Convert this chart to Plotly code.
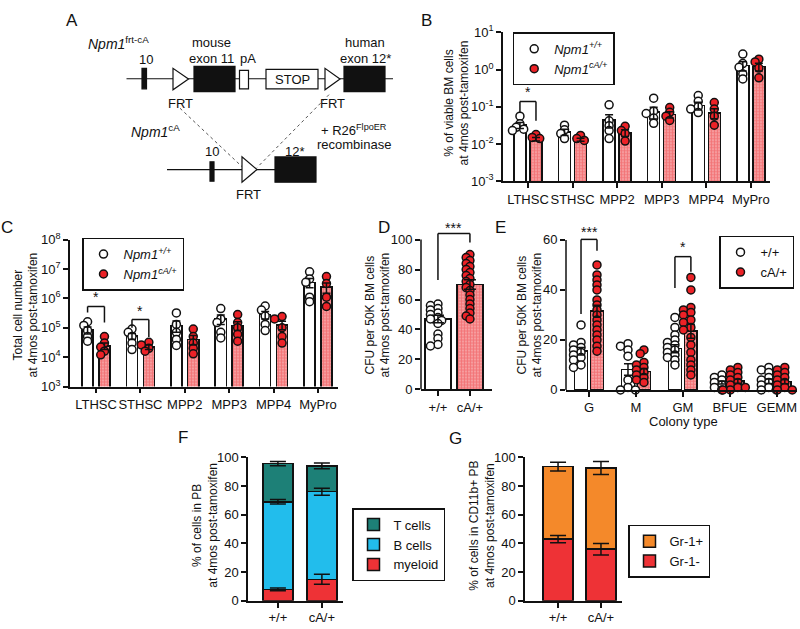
import math
import numpy as np
import plotly.graph_objects as go

W, H = 800, 629
FONT = "Liberation Sans, Arial, Helvetica, sans-serif"
RED = "#ec2227"
BLACK = "#111111"


def X(px):
    return px / W


def Y(py):
    return 1 - py / H


# ---------------- DATA ----------------
# Panel B: % of viable BM cells (log)
b_cats = ["LTHSC", "STHSC", "MPP2", "MPP3", "MPP4", "MyPro"]
b_wt_mean = [0.032, 0.021, 0.044, 0.072, 0.107, 1.27]
b_wt_sem = [0.006, 0.004, 0.017, 0.025, 0.025, 0.35]
b_ca_mean = [0.0135, 0.013, 0.020, 0.062, 0.068, 1.2]
b_ca_sem = [0.0015, 0.0012, 0.004, 0.012, 0.02, 0.28]
b_wt_pts = [[0.056, 0.035, 0.028, 0.025, 0.023],
            [0.032, 0.024, 0.019, 0.014],
            [0.113, 0.042, 0.031, 0.023, 0.014],
            [0.17, 0.076, 0.066, 0.05, 0.036],
            [0.2, 0.14, 0.1, 0.087, 0.07],
            [2.6, 1.45, 1.15, 0.76, 0.56]]
b_ca_pts = [[0.018, 0.015, 0.014],
            [0.017, 0.014, 0.0125],
            [0.03, 0.023, 0.019, 0.012],
            [0.095, 0.071, 0.056, 0.043],
            [0.13, 0.087, 0.056, 0.032],
            [1.9, 1.6, 1.1, 0.6]]
b_ticks = [1e-3, 1e-2, 1e-1, 1, 10]
b_ticktext = ["10<sup>-3</sup>", "10<sup>-2</sup>", "10<sup>-1</sup>", "10<sup>0</sup>", "10<sup>1</sup>"]
# (category, left leg bottom, top, right leg bottom, star level, label)
b_sig = [(0, 0.069, 0.138, 0.042, 0.25, "*")]

# Panel C: total cell number (log)
c_cats = ["LTHSC", "STHSC", "MPP2", "MPP3", "MPP4", "MyPro"]
c_wt_mean = [8.3e4, 5.2e4, 1.2e5, 2.0e5, 2.8e5, 3.5e6]
c_wt_sem = [2.2e4, 1.2e4, 5e4, 7e4, 8e4, 1.2e6]
c_ca_mean = [2.4e4, 2.2e4, 4.0e4, 1.2e5, 1.25e5, 2.4e6]
c_ca_sem = [6e3, 4e3, 1.4e4, 4e4, 4e4, 9e5]
c_wt_pts = [[1.6e5, 1.2e5, 8e4, 5e4, 3.5e4],
            [9e4, 7e4, 5e4, 3e4, 1.8e4],
            [3.2e5, 1.3e5, 7e4, 4e4, 2.5e4],
            [4.5e5, 2e5, 1.5e5, 7e4, 4.5e4],
            [5.5e5, 4e5, 2.5e5, 1.3e5, 8e4],
            [8e6, 4.6e6, 3.5e6, 1.1e6, 7.7e5]]
c_ca_pts = [[5e4, 3e4, 2.2e4, 1.6e4, 1.2e4],
            [3.2e4, 2.6e4, 2e4, 1.6e4],
            [9e4, 5e4, 3e4, 2e4, 1.3e4],
            [2.8e5, 1.5e5, 1e5, 6e4, 3.5e4],
            [2.4e5, 2e5, 1e5, 5e4, 3e4],
            [5.5e6, 3.2e6, 1.1e6, 5.3e5]]
c_ticks = [1e3, 1e4, 1e5, 1e6, 1e7, 1e8]
c_ticktext = ["10<sup>3</sup>", "10<sup>4</sup>", "10<sup>5</sup>", "10<sup>6</sup>", "10<sup>7</sup>", "10<sup>8</sup>"]
c_sig = [(0, 3.3e5, 5.3e5, 1.5e5, 1.1e6, "*"),
         (1, 1.0e5, 1.9e5, 4.8e4, 3.6e5, "*")]

# Panel D: CFU per 50K BM cells
d_cats = ["+/+", "cA/+"]
d_mean = [47, 70]
d_sem = [2.5, 3.2]
d_wt_pts = [57, 56, 54, 53, 51, 50, 48, 47, 46, 44, 37, 34, 30, 29]
d_ca_pts = [90, 88, 86, 84, 82, 80, 78, 76, 74, 72, 70, 68, 66, 63, 60, 57, 54, 51, 49, 47]
d_ticks = [0, 20, 40, 60, 80, 100]
d_sig = [(0, 73, 104, 98, 108, "***")]

# Panel E: CFU by colony type
e_cats = ["G", "M", "GM", "BFUE", "GEMM"]
e_wt_mean = [15.5, 8.2, 16.5, 3.0, 3.5]
e_wt_sem = [1.5, 2.3, 1.6, 0.6, 0.9]
e_ca_mean = [31.5, 7.4, 23.5, 3.5, 3.3]
e_ca_sem = [2.4, 1.2, 2.8, 0.8, 0.8]
e_wt_pts = [[26, 19, 18, 17, 16, 15, 14, 13, 12, 10, 9],
            [18.5, 17.5, 16, 13.5, 4, 1, 0, 0],
            [29, 25, 22, 20, 19, 18, 17, 16, 15, 14, 13, 12, 10],
            [6, 5, 4, 3, 3, 2, 1, 1, 0],
            [9, 8, 7, 5, 4, 3, 2, 1, 0, 0]]
e_ca_pts = [[50, 46, 44, 42, 40, 36, 34, 32, 30, 28, 26, 24, 22, 20, 17.5, 15.5],
            [16, 14.5, 11, 10, 9, 8, 7, 6, 5, 4, 3],
            [45, 40, 33, 32, 31, 30, 28, 27, 25, 24, 21, 18, 15, 12, 10, 8, 6],
            [9, 8, 7, 6, 5, 4, 3, 2, 1, 1, 0, 0],
            [9, 8, 7, 6, 5, 4, 3, 2, 1, 0, 0]]
e_ticks = [0, 20, 40, 60]
e_sig = [(0, 30.4, 60.2, 55.7, 63.3, "***"),
         (2, 40.8, 53.3, 47.3, 57.0, "*")]

# Panel F: % of cells in PB (stacked)
f_cats = ["+/+", "cA/+"]
f_myeloid = [8, 15]
f_myeloid_sem = [1, 3.5]
f_bcells = [61, 61]
f_bcells_sem = [1.5, 2.5]
f_tcells = [26.5, 18]
f_tcells_sem = [1.5, 2]
fg_ticks = [0, 20, 40, 60, 80, 100]

# Panel G: % of cells in CD11b+ PB (stacked)
g_cats = ["+/+", "cA/+"]
g_gr1neg = [43, 36]
g_gr1neg_sem = [2.5, 4]
g_gr1pos = [50.5, 56.5]
g_gr1pos_sem = [3, 4.5]

# ---------------- FIGURE ----------------
fig = go.Figure()
shapes = []
annotations = []
PATTERN = dict(shape=".", fgcolor=RED, bgcolor="#f9c4c4", size=3, solidity=0.75)


def swarm(vals, to_px, diam=7.5, tight=0.62):
    ys = [to_px(v) for v in vals]
    order = sorted(range(len(vals)), key=lambda i: -vals[i])
    placed = []
    offs = [0.0] * len(vals)
    cands = [0, -0.5, 0.5, -1, 1, -1.5, 1.5, -2, 2]
    for i in order:
        o = 0
        for k in cands:
            o = k * diam
            ok = all(math.hypot(o - po, ys[i] - py) >= diam * tight for po, py in placed)
            if ok:
                break
        offs[i] = o
        placed.append((o, ys[i]))
    return offs


def axis_common():
    return dict(showline=True, linecolor=BLACK, linewidth=1.5, ticks="outside", ticklen=5,
                tickwidth=1.5, tickcolor=BLACK, showgrid=False, zeroline=False, tickangle=0,
                tickfont=dict(size=13, color=BLACK, family=FONT), fixedrange=True)


def bar_scatter_panel(n, cats, wm, ws, cm, cs, wp, cp, off, bw, pxu, ypx, legend,
                      names, errw=4, pdiam=7.5, msize=8):
    xa = "x" if n == 1 else f"x{n}"
    ya = "y" if n == 1 else f"y{n}"
    idx = np.arange(len(cats))
    fig.add_trace(go.Bar(x=idx - off, y=wm, width=bw, xaxis=xa, yaxis=ya,
                         marker=dict(color="white", line=dict(color=BLACK, width=1.5)),
                         showlegend=False, hoverinfo="skip"))
    fig.add_trace(go.Bar(x=idx + off, y=cm, width=bw, xaxis=xa, yaxis=ya,
                         marker=dict(color="#f6a5a5", line=dict(color=BLACK, width=1.5),
                                     pattern=PATTERN),
                         showlegend=False, hoverinfo="skip"))
    for pts, sign, fill, name in [(wp, -1, "white", names[0]), (cp, 1, RED, names[1])]:
        xs, ys = [], []
        for i, vals in enumerate(pts):
            o = swarm(vals, ypx, pdiam)
            xs += [i + sign * off + oo / pxu for oo in o]
            ys += list(vals)
        fig.add_trace(go.Scatter(x=xs, y=ys, mode="markers", xaxis=xa, yaxis=ya,
                                 marker=dict(size=msize, color=fill, line=dict(color=BLACK, width=1.5)),
                                 name=name, legend=legend, showlegend=legend is not None,
                                 cliponaxis=False, hoverinfo="skip"))
    fig.add_trace(go.Scatter(x=list(idx - off) + list(idx + off), y=list(wm) + list(cm),
                             mode="markers", marker=dict(size=1, color="rgba(0,0,0,0)"),
                             error_y=dict(type="data", array=list(ws) + list(cs), visible=True,
                                          color=BLACK, thickness=1.5, width=errw),
                             xaxis=xa, yaxis=ya, showlegend=False, hoverinfo="skip"))


def brackets(n, sig, off, log=False):
    xa = "x" if n == 1 else f"x{n}"
    ya = "y" if n == 1 else f"y{n}"
    for cat, yl, yt, yr, ys, lab in sig:
        x0, x1 = cat - off, cat + off
        for (a, b, c, d) in [(x0, yl, x0, yt), (x0, yt, x1, yt), (x1, yt, x1, yr)]:
            shapes.append(dict(type="line", xref=xa, yref=ya, x0=a, y0=b, x1=c, y1=d,
                               line=dict(color=BLACK, width=1.5)))
        annotations.append(dict(x=cat, y=math.log10(ys) if log else ys, xref=xa, yref=ya,
                                text=lab, showarrow=False, font=dict(size=14, color=BLACK, family=FONT),
                                yanchor="middle"))


# B
b_ppd = (177 - 24) / 4.0
bar_scatter_panel(1, b_cats, b_wt_mean, b_wt_sem, b_ca_mean, b_ca_sem, b_wt_pts, b_ca_pts,
                  0.18, 0.27, 44.6, lambda v: math.log10(v) * b_ppd, "legend",
                  ["<i>Npm1<sup>+/+</sup></i>", "<i>Npm1<sup>cA/+</sup></i>"])
brackets(1, b_sig, 0.18, log=True)

# C
c_ppd = (388 - 237) / 5.0
bar_scatter_panel(2, c_cats, c_wt_mean, c_wt_sem, c_ca_mean, c_ca_sem, c_wt_pts, c_ca_pts,
                  0.19, 0.25, 44.4, lambda v: math.log10(v) * c_ppd, "legend2",
                  ["<i>Npm1<sup>+/+</sup></i>", "<i>Npm1<sup>cA/+</sup></i>"])
brackets(2, c_sig, 0.19, log=True)

# D
d_ppu = (391 - 237) / 100.0
idx = np.arange(len(d_cats))
fig.add_trace(go.Bar(x=[0], y=[d_mean[0]], width=0.82, xaxis="x3", yaxis="y3",
                     marker=dict(color="white", line=dict(color=BLACK, width=1.5)),
                     showlegend=False, hoverinfo="skip"))
fig.add_trace(go.Bar(x=[1], y=[d_mean[1]], width=0.82, xaxis="x3", yaxis="y3",
                     marker=dict(color="#f6a5a5", line=dict(color=BLACK, width=1.5), pattern=PATTERN),
                     showlegend=False, hoverinfo="skip"))
for i, (pts, fill) in enumerate([(d_wt_pts, "white"), (d_ca_pts, RED)]):
    o = swarm(pts, lambda v: v * d_ppu, 7.5, 0.55)
    fig.add_trace(go.Scatter(x=[i + oo / 32.0 for oo in o], y=pts, mode="markers", xaxis="x3", yaxis="y3",
                             marker=dict(size=8, color=fill, line=dict(color=BLACK, width=1.5)),
                             showlegend=False, cliponaxis=False, hoverinfo="skip"))
fig.add_trace(go.Scatter(x=list(idx), y=d_mean, mode="markers", marker=dict(size=1, color="rgba(0,0,0,0)"),
                         error_y=dict(type="data", array=d_sem, visible=True, color=BLACK, thickness=1.5, width=6),
                         xaxis="x3", yaxis="y3", showlegend=False, hoverinfo="skip"))
for cat, yl, yt, yr, ys, lab in d_sig:
    for (a, b, c, d) in [(0, yl, 0, yt), (0, yt, 1, yt), (1, yt, 1, yr)]:
        shapes.append(dict(type="line", xref="x3", yref="y3", x0=a, y0=b, x1=c, y1=d,
                           line=dict(color=BLACK, width=1.5)))
    annotations.append(dict(x=0.5, y=ys, xref="x3", yref="y3", text=lab, showarrow=False,
                            font=dict(size=14, color=BLACK, family=FONT), yanchor="middle"))

# E
e_ppu = (391.5 - 237.3) / 60.0
bar_scatter_panel(4, e_cats, e_wt_mean, e_wt_sem, e_ca_mean, e_ca_sem, e_wt_pts, e_ca_pts,
                  0.17, 0.27, 47.0, lambda v: v * e_ppu, "legend3", ["+/+", "cA/+"], errw=4)
brackets(4, e_sig, 0.17)

# F stacked
f_layers = [("myeloid", f_myeloid, f_myeloid_sem, "#ee3236"),
            ("B cells", f_bcells, f_bcells_sem, "#22bdec"),
            ("T cells", f_tcells, f_tcells_sem, "#1d8077")]
cum = np.zeros(len(f_cats))
for name, vals, sems, col in f_layers:
    fig.add_trace(go.Bar(x=np.arange(len(f_cats)), y=vals, width=0.68, xaxis="x5", yaxis="y5",
                         marker=dict(color=col, line=dict(color=BLACK, width=1.5)), name=name,
                         legend="legend4", hoverinfo="skip"))
    cum = cum + np.array(vals)
    fig.add_trace(go.Scatter(x=np.arange(len(f_cats)), y=cum, mode="markers",
                             marker=dict(size=1, color="rgba(0,0,0,0)"),
                             error_y=dict(type="data", array=sems, visible=True, color=BLACK, thickness=1.5, width=8),
                             xaxis="x5", yaxis="y5", showlegend=False, hoverinfo="skip"))

# G stacked
g_layers = [("Gr-1-", g_gr1neg, g_gr1neg_sem, "#ee3236"),
            ("Gr-1+", g_gr1pos, g_gr1pos_sem, "#f4892a")]
cum = np.zeros(len(g_cats))
for name, vals, sems, col in g_layers:
    fig.add_trace(go.Bar(x=np.arange(len(g_cats)), y=vals, width=0.70, xaxis="x6", yaxis="y6",
                         marker=dict(color=col, line=dict(color=BLACK, width=1.5)), name=name,
                         legend="legend5", hoverinfo="skip"))
    cum = cum + np.array(vals)
    fig.add_trace(go.Scatter(x=np.arange(len(g_cats)), y=cum, mode="markers",
                             marker=dict(size=1, color="rgba(0,0,0,0)"),
                             error_y=dict(type="data", array=sems, visible=True, color=BLACK, thickness=1.5, width=8),
                             xaxis="x6", yaxis="y6", showlegend=False, hoverinfo="skip"))

# ---------------- AXES ----------------
layout = dict(width=W, height=H, autosize=False, margin=dict(l=0, r=0, t=0, b=0),
              paper_bgcolor="white", plot_bgcolor="rgba(0,0,0,0)", barmode="stack",
              font=dict(family=FONT, color=BLACK, size=13))


def set_axes(n, xdom, ydom, xrange, xtv, xtt, yaxis_extra, xextra=None):
    sx = "xaxis" if n == 1 else f"xaxis{n}"
    sy = "yaxis" if n == 1 else f"yaxis{n}"
    ya = "y" if n == 1 else f"y{n}"
    xa = "x" if n == 1 else f"x{n}"
    ax = axis_common()
    ax.update(domain=[X(xdom[0]), X(xdom[1])], range=xrange, tickvals=xtv, ticktext=xtt, anchor=ya)
    if xextra:
        ax.update(xextra)
    ay = axis_common()
    ay.update(domain=[Y(ydom[1]), Y(ydom[0])], anchor=xa)
    ay.update(yaxis_extra)
    layout[sx] = ax
    layout[sy] = ay


set_axes(1, (503, 770), (24, 177), [-0.56, 5.43], list(range(6)), b_cats,
         dict(type="log", range=[-3, 1], tickvals=b_ticks, ticktext=b_ticktext))
set_axes(2, (70, 338), (237, 388), [-0.586, 5.45], list(range(6)), c_cats,
         dict(type="log", range=[3, 8], tickvals=c_ticks, ticktext=c_ticktext))
set_axes(3, (421, 492), (391 - 112 * d_ppu, 391), [-0.53, 1.69], [0, 1], d_cats,
         dict(range=[0, 112], tickvals=d_ticks, showline=False))
set_axes(4, (566, 797), (391.5 - 64 * e_ppu, 391.5), [-0.49, 4.43], list(range(5)), e_cats,
         dict(range=[0, 64], tickvals=e_ticks, showline=False))
set_axes(5, (248, 343), (460.7, 608.3), [-0.68, 1.48], [0, 1], f_cats,
         dict(range=[0, 100], tickvals=fg_ticks), dict(ticklabelstandoff=-1))
set_axes(6, (525, 622), (460.7, 608.3), [-0.77, 1.49], [0, 1], g_cats,
         dict(range=[0, 100], tickvals=fg_ticks), dict(ticklabelstandoff=-1))

# manual y axis lines for D and E (so brackets may rise above the top tick)
shapes.append(dict(type="line", xref="x3 domain", yref="y3", x0=0, x1=0, y0=0, y1=100,
                   line=dict(color=BLACK, width=1.5)))
shapes.append(dict(type="line", xref="x4 domain", yref="y4", x0=0, x1=0, y0=0, y1=60,
                   line=dict(color=BLACK, width=1.5)))

# ---------------- LEGENDS ----------------
def leg(xp, yp, fs=13, order="normal", xanchor="left"):
    return dict(x=X(xp), y=Y(yp), xanchor=xanchor, yanchor="top", bgcolor="white",
                bordercolor=BLACK, borderwidth=1.5, font=dict(size=fs, color=BLACK, family=FONT),
                traceorder=order, itemclick=False, itemdoubleclick=False, itemwidth=30)


layout["legend"] = leg(512.7, 24)
layout["legend2"] = leg(82, 235)
layout["legend3"] = leg(794, 233, xanchor="right")
layout["legend4"] = leg(352, 513, order="reversed")
layout["legend5"] = leg(628, 530, order="reversed")

# ---------------- TEXT ----------------
def txt(xp, yp, s, size=13, angle=0, xanchor="center", yanchor="middle", italic=False):
    annotations.append(dict(x=X(xp), y=Y(yp), xref="paper", yref="paper", text=s, showarrow=False,
                            textangle=angle, xanchor=xanchor, yanchor=yanchor,
                            font=dict(size=size, color=BLACK, family=FONT,
                                      style="italic" if italic else "normal")))


for lab, xp, yp in [("A", 72, 12), ("B", 426, 12), ("C", 7, 225), ("D", 384, 225),
                    ("E", 500, 225), ("F", 183, 440), ("G", 455, 441)]:
    txt(xp, yp, lab, size=17)

txt(457, 97, "% of viable BM cells<br>at 4mos post-tamoxifen", size=12, angle=-90)
txt(26, 315, "Total cell number<br>at 4mos post-tamoxifen", size=12, angle=-90)
txt(378, 315, "CFU per 50K BM cells<br>at 4mos post-tamoxifen", size=12, angle=-90)
txt(530, 315, "CFU per 50K BM cells<br>at 4mos post-tamoxifen", size=12, angle=-90)
txt(205, 530, "% of cells in PB<br>at 4mos post-tamoxifen", size=12, angle=-90)
txt(482, 531, "% of cells in CD11b+ PB<br>at 4mos post-tamoxifen", size=12, angle=-90)
txt(683, 424, "Colony type", size=13)

# ---------------- PANEL A DIAGRAM ----------------
def rect(x0, y0, x1, y1, fill):
    shapes.append(dict(type="rect", xref="paper", yref="paper", x0=X(x0), x1=X(x1), y0=Y(y1), y1=Y(y0),
                       fillcolor=fill, line=dict(color=BLACK, width=1.2)))


def hline(x0, x1, y, dash="solid", w=1.2, col=BLACK):
    shapes.append(dict(type="line", xref="paper", yref="paper", x0=X(x0), x1=X(x1), y0=Y(y), y1=Y(y),
                       line=dict(color=col, width=w, dash=dash)))


def seg(x0, y0, x1, y1, dash="dot", col="#555555", w=1):
    shapes.append(dict(type="line", xref="paper", yref="paper", x0=X(x0), x1=X(x1), y0=Y(y0), y1=Y(y1),
                       line=dict(color=col, width=w, dash=dash)))


def tri(x0, ytop, ybot, x1):
    ym = (ytop + ybot) / 2
    path = f"M{X(x0)},{Y(ytop)} L{X(x0)},{Y(ybot)} L{X(x1)},{Y(ym)} Z"
    shapes.append(dict(type="path", xref="paper", yref="paper", path=path, fillcolor="white",
                       line=dict(color=BLACK, width=1.2)))


# dotted recombination lines
seg(180, 102, 243, 163)
seg(329, 88, 257, 163)
# top allele
hline(126.5, 393, 71.7)
rect(142, 61, 146.5, 82, BLACK)
tri(173, 61, 83, 188.5)
rect(194, 59, 235, 85, BLACK)
rect(239.5, 63, 248.5, 82, "white")
rect(266, 62, 318, 82, "white")
tri(325, 61, 83, 340)
rect(344, 59, 385, 85, BLACK)
# bottom allele
hline(167, 316, 165)
rect(210, 157, 214, 177, BLACK)
tri(242, 152, 178, 257)
rect(275, 152, 316, 178, BLACK)

txt(292, 72, "STOP", size=13)
txt(118, 35, "<i>Npm1</i><sup>frt-cA</sup>", size=14)
txt(211, 34, "mouse", size=13)
txt(211, 51, "exon 11", size=13)
txt(248, 51, "pA", size=13)
txt(365, 34, "human", size=13)
txt(365, 51, "exon 12*", size=13)
txt(146, 52, "10", size=13)
txt(180, 97, "FRT", size=13)
txt(332, 97, "FRT", size=13)
txt(155, 125, "<i>Npm1</i><sup>cA</sup>", size=14)
txt(212, 146, "10", size=13)
txt(295, 146, "12*", size=13)
txt(248, 191, "FRT", size=13)
txt(354, 124, "+ R26<sup>FlpoER</sup>", size=13)
txt(354, 139, "recombinase", size=13)

layout["shapes"] = shapes
layout["annotations"] = annotations
fig.update_layout(**layout)
fig.write_html("out.html", config={"displayModeBar": False},
               post_script="document.body.style.margin='0px';")
